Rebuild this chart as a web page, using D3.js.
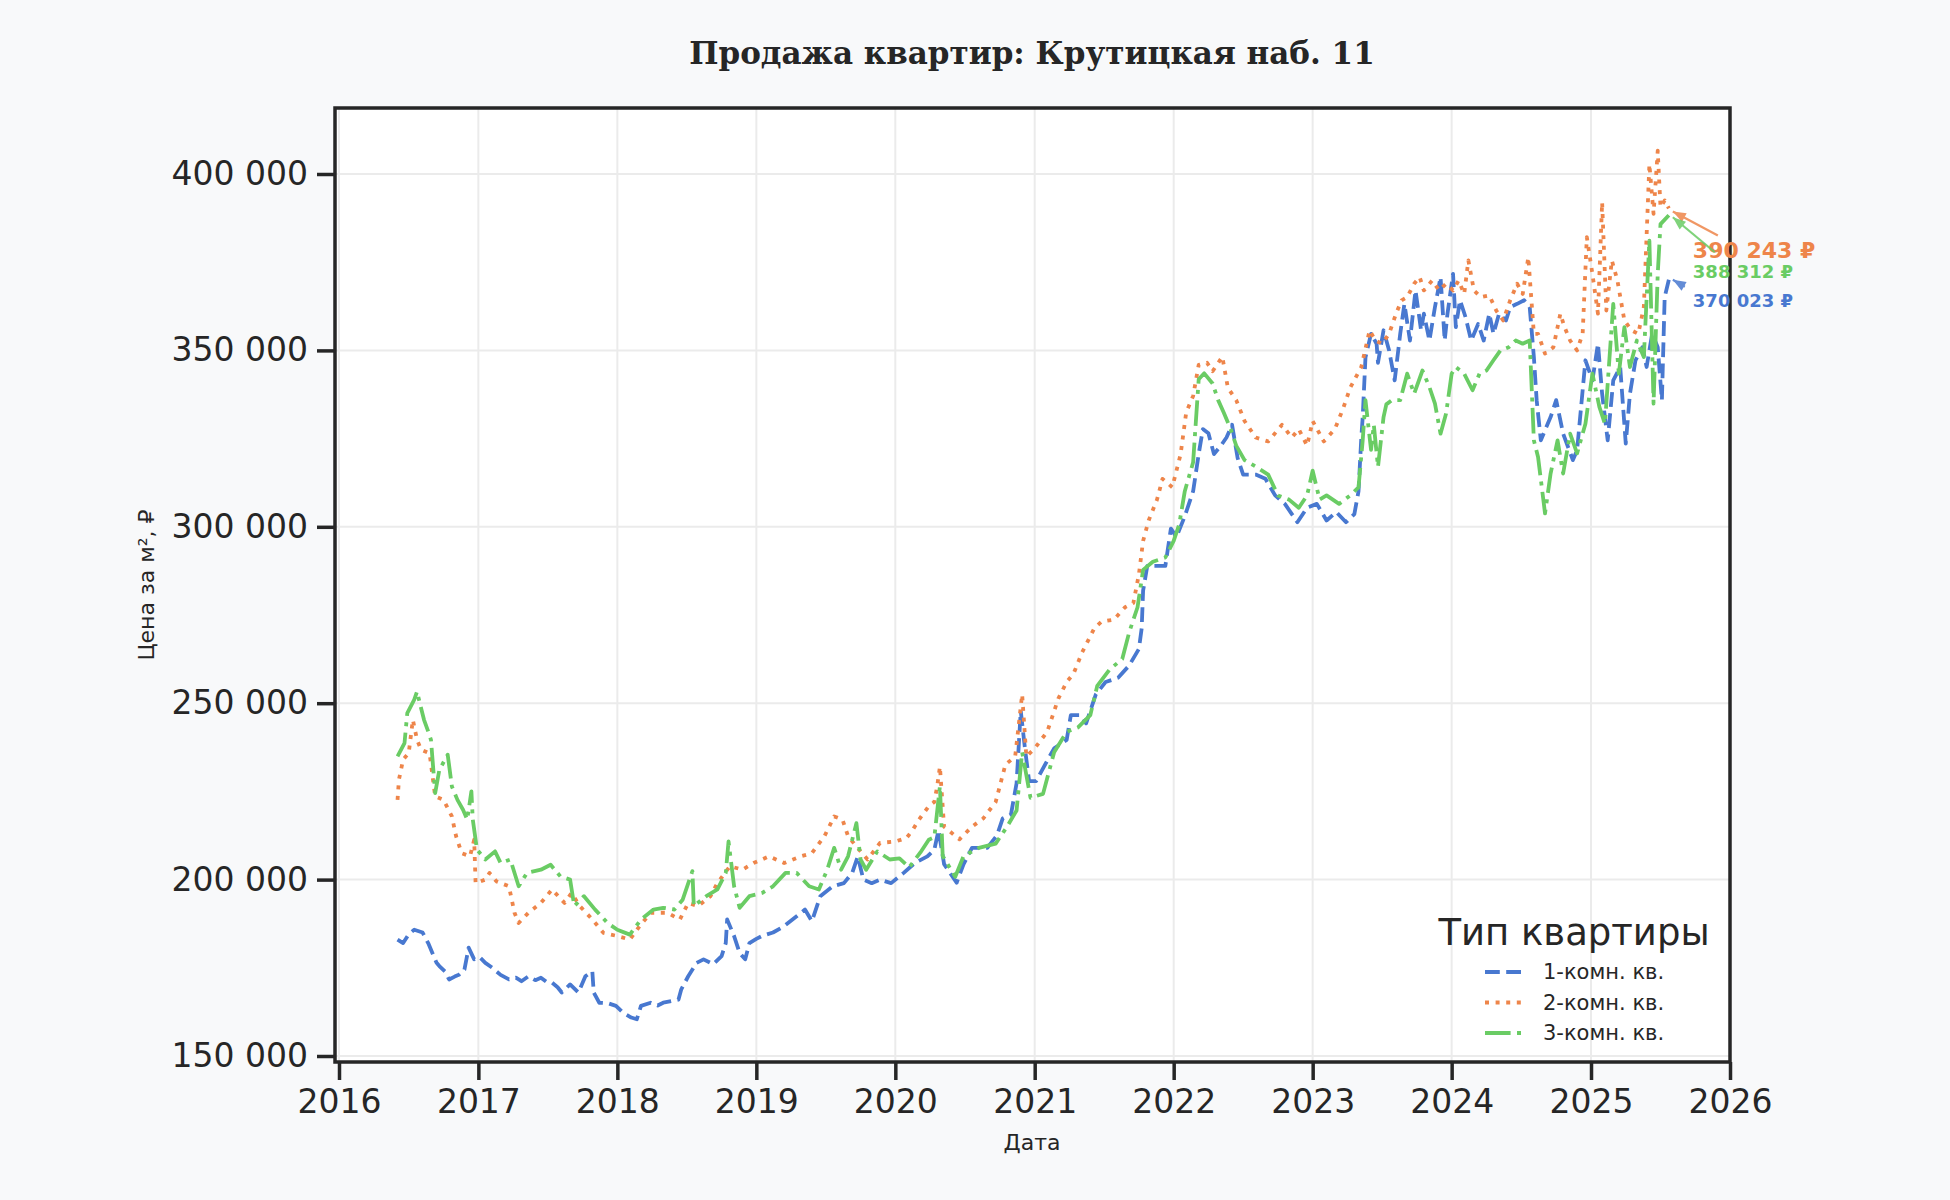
<!DOCTYPE html>
<html>
<head>
<meta charset="utf-8">
<script src="https://cdn.jsdelivr.net/npm/d3@7"></script>
<style>
  body { margin: 0; background: #f8f9fa; }
  text { font-family: "DejaVu Sans", sans-serif; fill: #262626; }
</style>
</head>
<body>
<script>
// Цена за м2 по типам квартир: [год (дробный), цена ₽]
var oneRoom = [
  [2016.42,183000],[2016.46,182000],[2016.50,184500],[2016.54,185800],[2016.60,185000],[2016.64,182000],
  [2016.67,179200],[2016.70,176400],[2016.72,175500],[2016.76,174000],[2016.79,171700],[2016.83,172500],
  [2016.86,173000],[2016.90,174500],[2016.93,180700],[2016.97,177400],[2017.01,178000],[2017.05,176400],
  [2017.10,175000],[2017.16,173000],[2017.22,171700],[2017.27,172200],[2017.31,171200],[2017.36,172600],
  [2017.41,171500],[2017.45,172200],[2017.49,171000],[2017.53,170800],[2017.57,169500],[2017.60,168000],
  [2017.66,170300],[2017.72,168000],[2017.77,172600],[2017.82,174000],[2017.83,168000],[2017.87,165100],
  [2017.93,165000],[2017.99,164200],[2018.04,162300],[2018.10,160900],[2018.14,160400],[2018.17,164200],
  [2018.24,165100],[2018.29,164300],[2018.33,165100],[2018.39,165600],[2018.44,166000],[2018.46,168900],
  [2018.51,172600],[2018.57,176400],[2018.62,177400],[2018.69,176000],[2018.75,178300],[2018.78,182000],
  [2018.79,188700],[2018.84,184000],[2018.88,179200],[2018.92,177400],[2018.95,182000],[2019.00,183200],
  [2019.04,184000],[2019.12,185000],[2019.20,186800],[2019.29,189600],[2019.35,191500],[2019.40,188200],
  [2019.46,195300],[2019.55,198100],[2019.63,199000],[2019.69,201900],[2019.73,206600],[2019.77,200000],
  [2019.83,199000],[2019.89,200000],[2019.97,199000],[2020.06,201900],[2020.14,204700],[2020.23,206600],
  [2020.28,208500],[2020.31,214000],[2020.35,204400],[2020.44,199100],[2020.49,204400],[2020.55,209000],
  [2020.66,209000],[2020.73,212600],[2020.77,217300],[2020.83,218500],[2020.87,227300],[2020.90,247800],
  [2020.93,237200],[2020.96,227900],[2021.01,227900],[2021.09,233700],[2021.14,237200],[2021.23,239600],
  [2021.26,246600],[2021.33,246600],[2021.37,244300],[2021.44,252500],[2021.51,256000],[2021.60,257200],
  [2021.68,260700],[2021.75,265400],[2021.77,271300],[2021.78,281900],[2021.81,288900],[2021.88,288900],
  [2021.94,288900],[2021.98,299500],[2022.02,297100],[2022.08,303000],[2022.14,310100],[2022.18,320600],
  [2022.21,327700],[2022.25,326500],[2022.29,320600],[2022.34,323000],[2022.38,325300],[2022.42,328900],
  [2022.46,319500],[2022.50,314800],[2022.59,314800],[2022.66,313600],[2022.73,308900],[2022.80,306500],
  [2022.89,301300],[2022.96,305400],[2023.03,306500],[2023.10,301800],[2023.17,304200],[2023.24,301300],
  [2023.30,303600],[2023.33,310100],[2023.35,325300],[2023.36,331000],[2023.38,348000],[2023.42,354700],
  [2023.46,351900],[2023.47,346500],[2023.51,355700],[2023.55,350000],[2023.59,341500],[2023.63,354700],
  [2023.66,363200],[2023.70,352800],[2023.74,367000],[2023.78,355700],[2023.80,360400],[2023.84,352800],
  [2023.88,362300],[2023.92,370800],[2023.95,352800],[2023.97,360400],[2024.01,371700],[2024.03,356600],
  [2024.06,364200],[2024.10,359400],[2024.14,352800],[2024.19,357500],[2024.23,352800],[2024.27,360400],
  [2024.30,354700],[2024.34,360400],[2024.39,358500],[2024.42,362300],[2024.47,363200],[2024.52,364200],
  [2024.56,362300],[2024.59,348100],[2024.61,335900],[2024.64,324500],[2024.67,327400],[2024.71,331100],
  [2024.75,335900],[2024.80,326400],[2024.87,318900],[2024.90,321700],[2024.96,347200],[2025.01,341500],
  [2025.05,351900],[2025.08,337700],[2025.12,324500],[2025.16,341500],[2025.21,345300],[2025.25,323600],
  [2025.28,337700],[2025.32,347200],[2025.37,350900],[2025.40,345300],[2025.44,354700],[2025.48,350900],
  [2025.51,335900],[2025.53,365100],[2025.56,370023]
];

var twoRoom = [
  [2016.42,222600],[2016.43,228300],[2016.46,234000],[2016.50,235800],[2016.53,245300],[2016.56,239600],
  [2016.59,236800],[2016.65,235800],[2016.69,223600],[2016.75,222600],[2016.81,217900],[2016.84,212300],
  [2016.88,207500],[2016.94,206600],[2016.97,211300],[2016.98,199000],[2017.05,200000],[2017.08,201900],
  [2017.13,199500],[2017.22,198100],[2017.26,190600],[2017.29,187700],[2017.36,190600],[2017.45,193400],
  [2017.53,197200],[2017.62,193400],[2017.67,196200],[2017.73,192500],[2017.82,188700],[2017.90,184900],
  [2018.00,184000],[2018.09,183000],[2018.16,186800],[2018.24,190600],[2018.36,190600],[2018.45,188700],
  [2018.51,193400],[2018.58,192500],[2018.67,195300],[2018.72,199000],[2018.81,203800],[2018.90,202800],
  [2018.98,204700],[2019.04,205700],[2019.09,206600],[2019.20,204700],[2019.32,206600],[2019.40,207500],
  [2019.49,212300],[2019.56,217900],[2019.62,217000],[2019.66,212300],[2019.72,209400],[2019.80,205700],
  [2019.89,210400],[2020.00,210800],[2020.08,211800],[2020.12,213800],[2020.17,217000],[2020.24,220800],
  [2020.28,222000],[2020.30,226400],[2020.32,232000],[2020.35,215000],[2020.46,211400],[2020.55,215000],
  [2020.63,217300],[2020.72,222000],[2020.79,232600],[2020.86,234900],[2020.91,252500],[2020.94,234900],
  [2021.00,237200],[2021.09,241900],[2021.17,251300],[2021.23,256000],[2021.28,258400],[2021.34,264300],
  [2021.43,271300],[2021.48,273100],[2021.57,273700],[2021.65,277200],[2021.71,278400],[2021.75,286600],
  [2021.78,296000],[2021.82,301800],[2021.88,307700],[2021.92,313600],[2021.99,311200],[2022.05,320600],
  [2022.09,332400],[2022.14,337100],[2022.18,345900],[2022.24,346500],[2022.28,344100],[2022.35,348200],
  [2022.39,339400],[2022.45,335900],[2022.51,330000],[2022.59,325300],[2022.68,324200],[2022.78,328900],
  [2022.85,325300],[2022.90,327700],[2022.96,323000],[2023.00,330000],[2023.08,324200],[2023.16,327700],
  [2023.22,333600],[2023.27,339400],[2023.35,345300],[2023.41,355700],[2023.45,352800],[2023.50,351900],
  [2023.55,354700],[2023.60,360400],[2023.64,364200],[2023.68,365100],[2023.73,368900],[2023.77,370800],
  [2023.80,367000],[2023.86,369800],[2023.91,367000],[2023.96,368900],[2024.01,367000],[2024.05,369800],
  [2024.09,366000],[2024.12,375500],[2024.16,367000],[2024.21,365100],[2024.27,365600],[2024.32,361300],
  [2024.37,358500],[2024.42,364200],[2024.47,368900],[2024.51,366000],[2024.55,376400],[2024.59,354700],
  [2024.62,354700],[2024.67,349100],[2024.73,350900],[2024.78,360400],[2024.81,356600],[2024.85,352800],
  [2024.90,350000],[2024.94,354700],[2024.97,382100],[2025.01,371700],[2025.05,360400],[2025.08,392000],
  [2025.11,361300],[2025.15,375500],[2025.19,369800],[2025.24,358500],[2025.29,355700],[2025.34,354700],
  [2025.38,362300],[2025.42,402800],[2025.45,388700],[2025.48,406600],[2025.50,390600],[2025.53,392500],
  [2025.56,390243]
];

var threeRoom = [
  [2016.42,234900],[2016.47,238700],[2016.49,247200],[2016.54,251000],[2016.56,253300],[2016.58,250000],
  [2016.61,245300],[2016.64,242000],[2016.66,239600],[2016.69,224500],[2016.72,231100],[2016.78,235400],
  [2016.81,226400],[2016.85,222600],[2016.89,219800],[2016.92,217000],[2016.95,225000],[2016.96,217000],
  [2016.99,208500],[2017.05,205700],[2017.12,208000],[2017.16,204700],[2017.23,205700],[2017.29,198100],
  [2017.35,201900],[2017.45,202800],[2017.52,204200],[2017.59,200900],[2017.66,200000],[2017.69,192500],
  [2017.76,195300],[2017.84,191500],[2017.93,187700],[2018.00,185800],[2018.09,184400],[2018.17,188700],
  [2018.26,191500],[2018.33,192000],[2018.41,191500],[2018.47,194300],[2018.54,202400],[2018.55,192500],
  [2018.64,195300],[2018.72,197200],[2018.78,201900],[2018.80,210800],[2018.84,198100],[2018.88,192000],
  [2018.95,195300],[2019.04,196200],[2019.12,198100],[2019.21,201900],[2019.29,201900],[2019.38,198100],
  [2019.45,197200],[2019.51,202800],[2019.56,209000],[2019.61,202800],[2019.66,206600],[2019.72,216000],
  [2019.75,205700],[2019.79,202800],[2019.87,208000],[2019.96,205700],[2020.03,206000],[2020.10,203500],
  [2020.18,207700],[2020.24,211300],[2020.28,212000],[2020.32,226500],[2020.34,206700],[2020.43,200800],
  [2020.49,206700],[2020.60,209000],[2020.72,210200],[2020.80,214900],[2020.87,219600],[2020.91,236100],
  [2020.97,223200],[2021.06,224300],[2021.14,236100],[2021.23,241900],[2021.31,243100],[2021.40,246600],
  [2021.45,254900],[2021.54,259600],[2021.63,262500],[2021.68,270100],[2021.74,277200],[2021.78,287800],
  [2021.85,290100],[2021.94,291300],[2022.00,296000],[2022.04,300700],[2022.08,310100],[2022.14,318300],
  [2022.18,341800],[2022.22,343500],[2022.28,340600],[2022.32,335900],[2022.36,332400],[2022.41,327700],
  [2022.45,323000],[2022.51,318900],[2022.59,317100],[2022.68,314800],[2022.75,308900],[2022.83,307700],
  [2022.90,305400],[2022.96,308900],[2023.00,315900],[2023.05,307700],[2023.10,308900],[2023.19,306500],
  [2023.27,308900],[2023.33,311200],[2023.36,324500],[2023.38,335900],[2023.42,321800],[2023.44,328900],
  [2023.47,317000],[2023.51,331100],[2023.53,334700],[2023.57,335900],[2023.63,335900],[2023.68,343400],
  [2023.73,337700],[2023.79,344300],[2023.84,339600],[2023.88,334900],[2023.92,326400],[2023.96,332100],
  [2024.00,343400],[2024.03,345300],[2024.09,343400],[2024.15,338700],[2024.20,343400],[2024.25,344300],
  [2024.30,347200],[2024.35,350000],[2024.41,350900],[2024.46,352800],[2024.51,351900],[2024.56,352800],
  [2024.59,324500],[2024.62,319800],[2024.67,303800],[2024.71,315100],[2024.76,324500],[2024.80,315100],
  [2024.85,326400],[2024.90,320800],[2024.96,329200],[2025.01,343400],[2025.06,334000],[2025.10,329200],
  [2025.16,363200],[2025.20,343400],[2025.24,356600],[2025.28,345300],[2025.33,352800],[2025.38,348100],
  [2025.42,381100],[2025.45,334900],[2025.48,371700],[2025.50,385800],[2025.56,388312]
];

var seriesNames = ["1-комн. кв.", "2-комн. кв.", "3-комн. кв."];
var yTicks = [150000, 200000, 250000, 300000, 350000, 400000];
var xTickYears = [2016, 2017, 2018, 2019, 2020, 2021, 2022, 2023, 2024, 2025, 2026];

var width = 1950, height = 1200;
var frame = {left: 335, right: 1730, top: 108, bottom: 1062};

var svg = d3.select("body").append("svg")
    .attr("width", width)
    .attr("height", height);

svg.append("rect").attr("width", width).attr("height", height).attr("fill", "#f8f9fa");

// decimal year -> Date (UTC)
function toDate(t) {
  var yr = Math.floor(t);
  var a = Date.UTC(yr, 0, 1), b = Date.UTC(yr + 1, 0, 1);
  return new Date(a + (t - yr) * (b - a));
}

var x = d3.scaleUtc()
    .domain([toDate(2016), toDate(2026)])
    .range([339, 1730]);
var y = d3.scaleLinear()
    .domain([150000, 400000])
    .range([1056, 174]);

var ru = d3.formatLocale({decimal: ",", thousands: " ", grouping: [3], currency: ["", " ₽"]});
var fmt = ru.format(",.0f");

// plot background
svg.append("rect")
    .attr("x", frame.left).attr("y", frame.top)
    .attr("width", frame.right - frame.left).attr("height", frame.bottom - frame.top)
    .attr("fill", "#ffffff");

// grid
var grid = svg.append("g").attr("class", "grid");
grid.selectAll(".vgrid").data(xTickYears).enter().append("line")
    .attr("x1", function(d){ return x(toDate(d)); })
    .attr("x2", function(d){ return x(toDate(d)); })
    .attr("y1", frame.top).attr("y2", frame.bottom)
    .attr("stroke", "#ebebeb").attr("stroke-width", 2);
grid.selectAll(".hgrid").data(yTicks).enter().append("line")
    .attr("x1", frame.left).attr("x2", frame.right)
    .attr("y1", function(d){ return y(d); })
    .attr("y2", function(d){ return y(d); })
    .attr("stroke", "#ebebeb").attr("stroke-width", 2);

// lines
var colors = ["#4878d0", "#ee854a", "#6acc64"];
var dashes = ["14.8,6.4", "4,6.6", "25.6,6.4,4,6.4"];
var allSeries = [oneRoom, twoRoom, threeRoom];

var line = d3.line()
    .x(function(d){ return x(toDate(d[0])); })
    .y(function(d){ return y(d[1]); });

svg.append("defs").append("clipPath").attr("id", "clip")
  .append("rect")
    .attr("x", frame.left).attr("y", frame.top)
    .attr("width", frame.right - frame.left).attr("height", frame.bottom - frame.top);

svg.append("g").attr("clip-path", "url(#clip)")
  .selectAll(".series").data(allSeries).enter().append("path")
    .attr("class", "series")
    .attr("d", line)
    .attr("fill", "none")
    .attr("stroke", function(d, i){ return colors[i]; })
    .attr("stroke-width", 3.8)
    .attr("stroke-dasharray", function(d, i){ return dashes[i]; })
    .attr("stroke-linejoin", "round")
    .attr("stroke-linecap", "butt");

// frame
svg.append("rect")
    .attr("x", frame.left).attr("y", frame.top)
    .attr("width", frame.right - frame.left).attr("height", frame.bottom - frame.top)
    .attr("fill", "none").attr("stroke", "#262626").attr("stroke-width", 3.5);

// axes
var xAxis = d3.axisBottom(x)
    .tickValues(xTickYears.map(toDate))
    .tickFormat(d3.utcFormat("%Y"))
    .tickSize(18).tickPadding(10);
var gx = svg.append("g").attr("transform", "translate(0," + frame.bottom + ")").call(xAxis);

var yAxis = d3.axisLeft(y)
    .tickValues(yTicks)
    .tickFormat(fmt)
    .tickSize(18).tickPadding(9);
var gy = svg.append("g").attr("transform", "translate(" + frame.left + ",0)").call(yAxis);

[gx, gy].forEach(function(g){
  g.select(".domain").remove();
  g.selectAll(".tick line").attr("stroke", "#262626").attr("stroke-width", 3.5);
  g.selectAll(".tick text")
    .attr("fill", "#262626")
    .style("font-family", "'DejaVu Sans', sans-serif")
    .style("font-size", "33px");
});

// labels
svg.append("text")
    .attr("x", 1032).attr("y", 64)
    .attr("text-anchor", "middle")
    .style("font-family", "'DejaVu Serif', serif")
    .style("font-weight", "bold")
    .style("font-size", "31px")
    .text("Продажа квартир: Крутицкая наб. 11");

svg.append("text")
    .attr("x", 1032).attr("y", 1150)
    .attr("text-anchor", "middle")
    .style("font-size", "22px")
    .text("Дата");

svg.append("text")
    .attr("transform", "translate(154,585) rotate(-90)")
    .attr("text-anchor", "middle")
    .style("font-size", "22px")
    .text("Цена за м², ₽");

// annotations on last values
var defs = svg.select("defs");
colors.forEach(function(c, i){
  defs.append("marker")
      .attr("id", "arrow" + i)
      .attr("viewBox", "-14 -6 16 12")
      .attr("refX", 0).attr("refY", 0)
      .attr("markerWidth", 16).attr("markerHeight", 12)
      .attr("markerUnits", "userSpaceOnUse")
      .attr("orient", "auto")
    .append("path")
      .attr("d", "M0,0L-13,-5L-13,5Z")
      .attr("fill", c);
});

var notes = [
  {s: 0, size: 18, text: [24, 27], from: [16, 7], to: [4, 0]},
  {s: 1, size: 22, text: [24, 50], from: [49, 27], to: [4, 3]},
  {s: 2, size: 18, text: [24, 63], from: [46, 37], to: [4, 2]}
];
var ann = svg.append("g").attr("class", "annotations");
notes.forEach(function(n){
  var data = allSeries[n.s];
  var last = data[data.length - 1];
  var px = x(toDate(last[0])), py = y(last[1]);
  ann.append("line")
      .attr("x1", px + n.from[0]).attr("y1", py + n.from[1])
      .attr("x2", px + n.to[0]).attr("y2", py + n.to[1])
      .attr("stroke", colors[n.s]).attr("stroke-width", 2.2)
      .attr("opacity", 0.85)
      .attr("marker-end", "url(#arrow" + n.s + ")");
  ann.append("text")
      .attr("x", px + n.text[0]).attr("y", py + n.text[1])
      .style("font-size", n.size + "px")
      .style("font-weight", "bold")
      .style("fill", colors[n.s])
      .text(fmt(last[1]) + " ₽");
});

// legend
var legend = svg.append("g").attr("class", "legend");
legend.append("text")
    .attr("x", 1574).attr("y", 945)
    .attr("text-anchor", "middle")
    .style("font-size", "37px")
    .text("Тип квартиры");
var items = legend.selectAll(".item").data(seriesNames).enter().append("g")
    .attr("class", "item")
    .attr("transform", function(d, i){ return "translate(0," + (972 + i * 30.5) + ")"; });
items.append("line")
    .attr("x1", 1485).attr("x2", 1527)
    .attr("stroke", function(d, i){ return colors[i]; })
    .attr("stroke-width", 3.8)
    .attr("stroke-dasharray", function(d, i){ return dashes[i]; });
items.append("text")
    .attr("x", 1543)
    .attr("dy", "0.35em")
    .style("font-size", "21px")
    .text(function(d){ return d; });
</script>
</body>
</html>
